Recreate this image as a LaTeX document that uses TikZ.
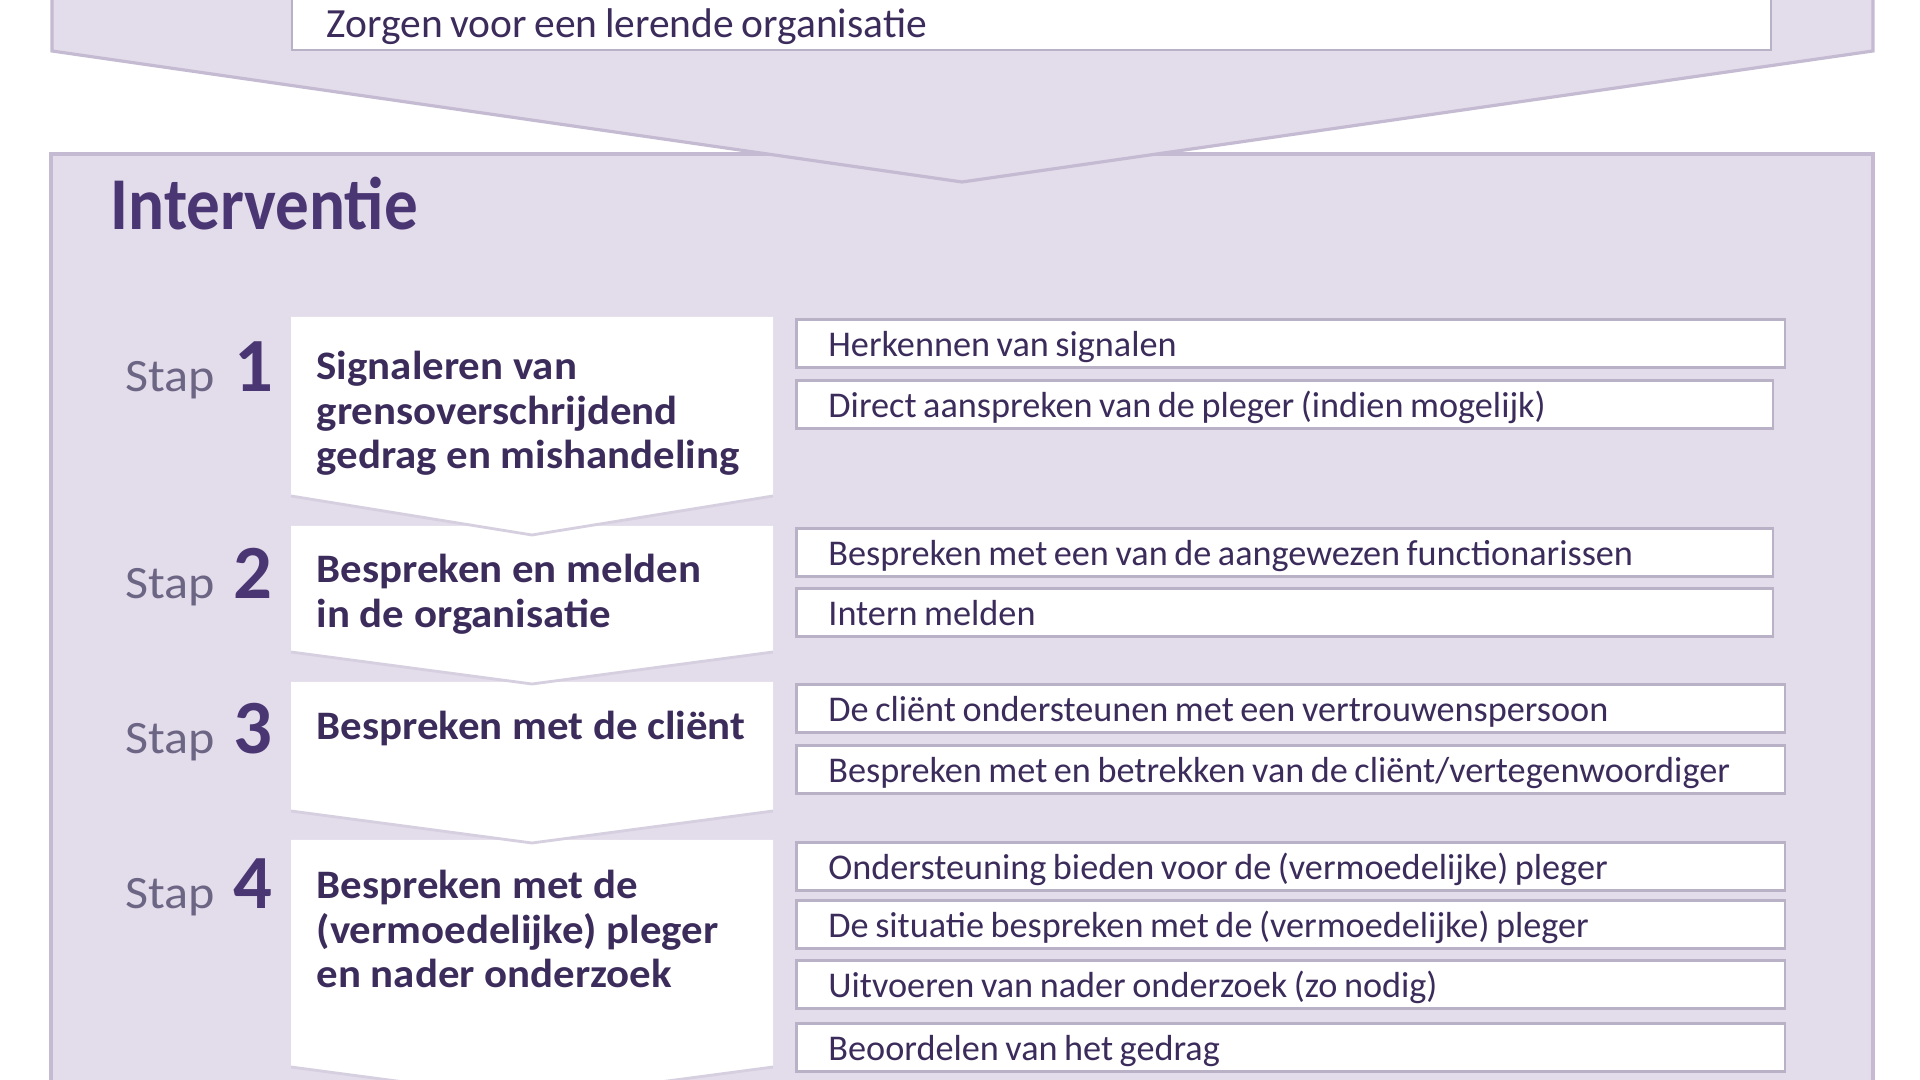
\documentclass[tikz,border=0pt]{standalone}
\usepackage{fontspec}
\setmainfont{Carlito}
\newfontfamily\itemfont[WordSpace=0.8]{Carlito}
\newfontfamily\stepfont[FakeStretch=1.06]{Carlito}
\newfontfamily\titlefont[FakeStretch=0.9]{Carlito}
\newfontfamily\stapfont[FakeStretch=1.08]{Carlito}
\definecolor{lilac}{HTML}{E3DCEB}
\definecolor{lilacedge}{HTML}{C4BAD1}
\definecolor{boxedge}{HTML}{B9B1C6}
\definecolor{txt}{HTML}{3B2C5B}
\definecolor{titlec}{HTML}{4A3672}
\definecolor{stapc}{HTML}{6C6584}
\definecolor{stepedge}{HTML}{D6CFE0}
\begin{document}
\begin{tikzpicture}[x=0.01cm,y=-0.01cm,
  panel/.style={fill=lilac,draw=lilacedge,line width=0.9pt},
  itembox/.style={draw=boxedge,fill=white,line width=0.8pt,anchor=north west,
    inner xsep=0.32cm,inner ysep=0pt,minimum height=0.48cm,
    text height=0.30cm,text depth=0.03cm,align=left,
    execute at begin node={\spaceskip=0pt\xspaceskip=0pt\hyphenpenalty=10000\exhyphenpenalty=10000},
    font=\itemfont\fontsize{10.3}{12}\selectfont,text=txt},
  widebox/.style={itembox,text width=9.24cm},
  narrowbox/.style={itembox,text width=9.12cm},
  stepbox/.style={fill=white},
  stepline/.style={draw=stepedge,line width=0.8pt},
  steptext/.style={anchor=base west,inner sep=0pt,text=txt,
    font=\stepfont\bfseries\fontsize{11.5}{12.6}\selectfont},
  staplabel/.style={anchor=base west,inner sep=0pt,text=stapc,
    font=\stapfont\fontsize{13.2}{15}\selectfont},
  stapnum/.style={anchor=base west,inner sep=0pt,text=titlec,
    font=\bfseries\fontsize{21.8}{24}\selectfont},
  titletext/.style={anchor=base west,inner sep=0pt,text=titlec,
    font=\titlefont\bfseries\fontsize{21.2}{24}\selectfont}
]
\useasboundingbox (0,0) rectangle (1920,1080);
\clip (0,0) rectangle (1920,1080);
\fill[white] (0,0) rectangle (1920,1080);

% Interventie panel
\filldraw[panel] (51,154) rectangle (1873,1110);

% top arrow panel (lies over the panel below)
\filldraw[panel] (52,-20) -- (52,51) -- (962,182) -- (1873,51) -- (1873,-20) -- cycle;
\filldraw[fill=white,draw=boxedge,line width=0.8pt] (292,-20) rectangle (1771,50);
\node[anchor=base west,inner sep=0pt,text=txt,font=\itemfont\fontsize{11.8}{14}\selectfont] (t0) at (326,38) {Zorgen voor een lerende organisatie};

\node[titletext] (title) at (110,230) {Interventie};

% step chevrons
\fill[stepbox] (291,840) -- (773,840) -- (773,1067) -- (532,1099) -- (291,1067) -- cycle;
\draw[stepline] (291,1067) -- (532,1099) -- (773,1067);
\fill[stepbox] (291,682) -- (773,682) -- (773,811) -- (532,843) -- (291,811) -- cycle;
\draw[stepline] (291,811) -- (532,843) -- (773,811);
\fill[stepbox] (291,526) -- (773,526) -- (773,652) -- (532,684) -- (291,652) -- cycle;
\draw[stepline] (291,652) -- (532,684) -- (773,652);
\fill[stepbox] (291,317) -- (773,317) -- (773,496) -- (532,535) -- (291,496) -- cycle;
\draw[stepline] (291,496) -- (532,535) -- (773,496);

% Stap labels
\node[staplabel] (s1) at (125,392) {Stap};
\node[stapnum] (n1) at (234,392) {1};
\node[staplabel] (s2) at (125,599) {Stap};
\node[stapnum] (n2) at (233,599) {2};
\node[staplabel] (s3) at (125,754) {Stap};
\node[stapnum] (n3) at (233,754) {3};
\node[staplabel] (s4) at (125,909) {Stap};
\node[stapnum] (n4) at (233,909) {4};

% step texts
\node[steptext] (st1) at (316,380) {\vtop{\hbox{Signaleren van}\hbox{grensoverschrijdend}\hbox{gedrag en mishandeling}}};
\node[steptext] (st2) at (316,583) {\vtop{\hbox{Bespreken en melden}\hbox{in de organisatie}}};
\node[steptext] (st3) at (316,740) {Bespreken met de cliënt};
\node[steptext] (st4) at (316,899) {\vtop{\hbox{Bespreken met de}\hbox{(vermoedelijke) pleger}\hbox{en nader onderzoek}}};

% item boxes
\node[widebox] (i1) at (795,318) {Herkennen van signalen};
\node[narrowbox] (i2) at (795,379) {Direct aanspreken van de pleger (indien mogelijk)};
\node[narrowbox] (i3) at (795,527) {Bespreken met een van de aangewezen functionarissen};
\node[narrowbox] (i4) at (795,587) {Intern melden};
\node[widebox] (i5) at (795,683) {De cliënt ondersteunen met een vertrouwenspersoon};
\node[widebox] (i6) at (795,744) {Bespreken met en betrekken van de cliënt/vertegenwoordiger};
\node[widebox] (i7) at (795,841) {Ondersteuning bieden voor de (vermoedelijke) pleger};
\node[widebox] (i8) at (795,899) {De situatie bespreken met de (vermoedelijke) pleger};
\node[widebox] (i9) at (795,959) {Uitvoeren van nader onderzoek (zo nodig)};
\node[widebox] (i10) at (795,1022) {Beoordelen van het gedrag};
\end{tikzpicture}
\end{document}
